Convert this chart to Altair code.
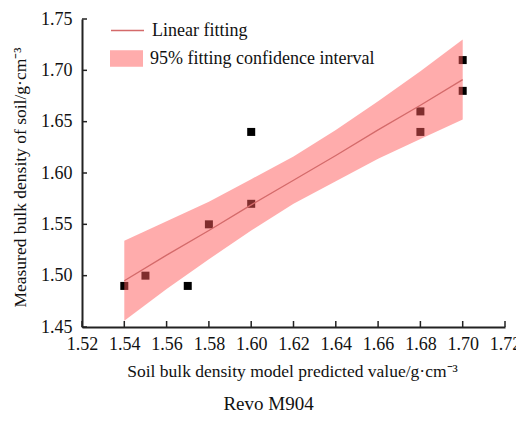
import altair as alt
import pandas as pd

# measured points
pred_x = [1.54, 1.55, 1.57, 1.58, 1.60, 1.60, 1.68, 1.68, 1.70, 1.70]
meas_y = [1.49, 1.50, 1.49, 1.55, 1.57, 1.64, 1.66, 1.64, 1.71, 1.68]

# fitted line and 95% confidence band
fit_x = [1.54, 1.56, 1.58, 1.60, 1.62, 1.64, 1.66, 1.68, 1.70]
fit_y = [1.495, 1.520, 1.544, 1.569, 1.593, 1.617, 1.642, 1.666, 1.691]
band_lo = [1.456, 1.487, 1.516, 1.544, 1.570, 1.592, 1.614, 1.633, 1.652]
band_hi = [1.534, 1.553, 1.572, 1.594, 1.616, 1.642, 1.670, 1.699, 1.730]

x_ticks = [1.52, 1.54, 1.56, 1.58, 1.60, 1.62, 1.64, 1.66, 1.68, 1.70, 1.72]
y_ticks = [1.45, 1.50, 1.55, 1.60, 1.65, 1.70, 1.75]

line_label = "Linear fitting"
band_label = "95% fitting confidence interval"

FONT = "Liberation Serif, Times New Roman, serif"

pts = pd.DataFrame({"x": pred_x, "y": meas_y})
fit = pd.DataFrame({"x": fit_x, "y": fit_y, "lo": band_lo, "hi": band_hi,
                    "line": line_label, "band": band_label})
xt = pd.DataFrame({"v": x_ticks})
yt = pd.DataFrame({"v": y_ticks})

xscale = alt.Scale(domain=[1.52, 1.72], nice=False, zero=False)
yscale = alt.Scale(domain=[1.45, 1.75], nice=False, zero=False)

xaxis = alt.Axis(values=x_ticks, format=".2f", tickSize=0, labelPadding=8,
                 labelFlush=False, labelOverlap=False,
                 title="Soil bulk density model predicted value/g·cm⁻³",
                 titleY=44, titleX=210, titleBaseline="middle", grid=False)
yaxis = alt.Axis(values=y_ticks, format=".2f", tickSize=0, labelPadding=10,
                 labelFlush=False, labelOverlap=False,
                 title="Measured bulk density of soil/g·cm⁻³",
                 titleX=-62, titleY=158, titleBaseline="middle", grid=False)

points = alt.Chart(pts).mark_square(size=64, color="black", opacity=1).encode(
    x=alt.X("x:Q", scale=xscale, axis=xaxis),
    y=alt.Y("y:Q", scale=yscale, axis=yaxis),
)

band = alt.Chart(fit).mark_area(opacity=0.5).encode(
    x=alt.X("x:Q", scale=xscale),
    y=alt.Y("lo:Q", scale=yscale),
    y2="hi:Q",
    fill=alt.Fill("band:N",
                  scale=alt.Scale(domain=[band_label], range=["#ff5a5a"]),
                  legend=alt.Legend(title=None, orient="none", legendX=28, legendY=23,
                                    symbolType="M-1,-0.5H1V0.5H-1Z", symbolSize=1089,
                                    symbolOpacity=0.5, symbolStrokeWidth=0,
                                    labelFont=FONT, labelFontSize=18, labelOffset=7,
                                    labelLimit=0, labelColor="#111")),
)

line = alt.Chart(fit).mark_line(strokeWidth=1.3).encode(
    x=alt.X("x:Q", scale=xscale),
    y=alt.Y("y:Q", scale=yscale),
    stroke=alt.Stroke("line:N",
                      scale=alt.Scale(domain=[line_label], range=["#d46a6a"]),
                      legend=alt.Legend(title=None, orient="none", legendX=28, legendY=-6,
                                        symbolType="stroke", symbolSize=1089,
                                        symbolStrokeWidth=1.3,
                                        labelFont=FONT, labelFontSize=18, labelOffset=7,
                                        labelLimit=0, labelColor="#111")),
)

xticks = alt.Chart(xt).mark_rule(color="#222", strokeWidth=1.5).encode(
    x=alt.X("v:Q", scale=xscale),
    y=alt.value(308), y2=alt.value(302),
)
yticks = alt.Chart(yt).mark_rule(color="#222", strokeWidth=1.5).encode(
    y=alt.Y("v:Q", scale=yscale),
    x=alt.value(0), x2=alt.value(5),
)

chart = alt.layer(points, band, line, xticks, yticks).properties(
    width=423, height=308,
    autosize=alt.AutoSizeParams(type="none"),
    padding={"left": 74, "top": 11, "right": 11, "bottom": 86},
    title=alt.TitleParams("Revo M904", orient="bottom", anchor="middle",
                          font=FONT, fontSize=19, fontWeight="normal",
                          color="#111", offset=15, dx=-25),
).configure(font=FONT).configure_view(stroke=None).configure_axis(
    domainColor="#222", domainWidth=2,
    labelFont=FONT, labelFontSize=18, labelColor="#111",
    titleFont=FONT, titleFontSize=17.5, titleFontWeight="normal", titleColor="#111",
).configure_legend(padding=0, rowPadding=0)

chart.save("out.html", embed_options={"renderer": "svg", "actions": False})
